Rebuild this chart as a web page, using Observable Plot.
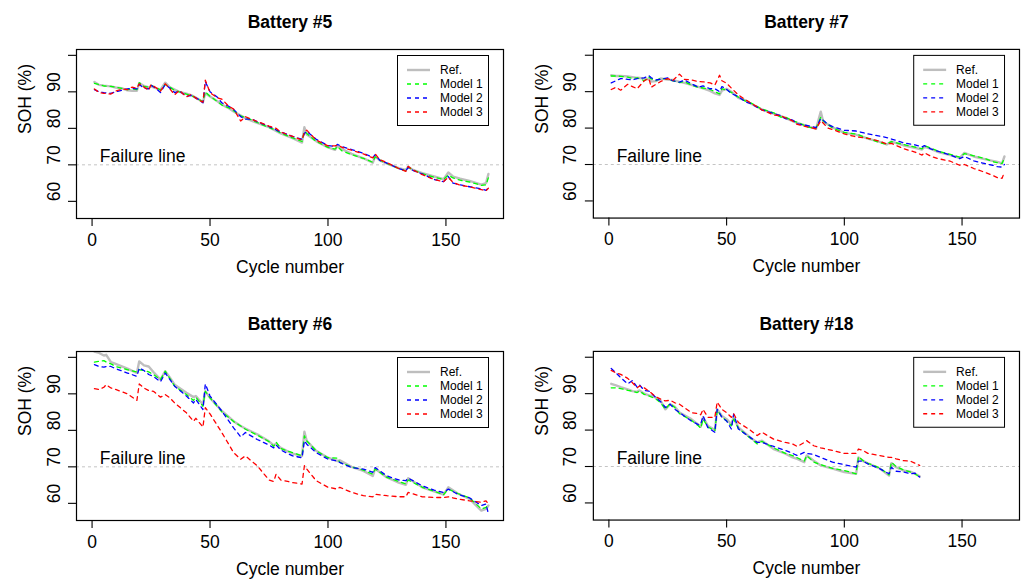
<!DOCTYPE html>
<html><head><meta charset="utf-8">
<script src="https://cdn.jsdelivr.net/npm/d3@7"></script>
<script src="https://cdn.jsdelivr.net/npm/@observablehq/plot@0.6"></script>
<style>
body{margin:0;background:#fff;width:1021px;height:579px;overflow:hidden;position:relative;font-family:"Liberation Sans",Arial,Helvetica,sans-serif;}
.panel{position:absolute;}
</style></head><body>
<script>
// ---------- data ----------
const seriesNames = ["Ref.", "Model 1", "Model 2", "Model 3"];
const seriesColors = ["#bebebe", "#00ff00", "#0000ff", "#ff0000"];
const yTicks = [60, 70, 80, 90, 100];
const yLabels = [60, 70, 80, 90];
const xTicks = [0, 50, 100, 150];
const failureLevel = [70];
const titles = ["Battery #5", "Battery #7", "Battery #6", "Battery #18"];

// Battery #5
const cycles5 = [1,3,5,8,10,13,15,17,19,20,22,24,25,27,29,31,33,35,37,40,42,45,47,48,50,53,55,58,60,63,65,68,70,75,78,80,85,89,90,91,95,100,103,104,106,110,115,119,120,122,125,130,133,134,136,140,145,149,151,153,156,160,165,167,168];
const ref5 = [92.7,91.9,91.7,91.5,91.2,90.9,90.4,90.3,90.3,92.4,91.6,91.2,91.5,91.0,90.6,92.5,91.2,90.6,90.0,89.5,89.1,88.0,87.2,89.6,88.7,87.5,86.5,85.5,84.6,83.5,82.8,82.0,81.5,80.3,79.3,78.6,77.3,76.1,80.3,78.3,76.5,74.8,74.1,75.2,74.3,73.0,71.8,70.6,72.3,71.2,70.3,69.1,68.6,69.5,68.6,67.7,66.8,66.1,67.9,66.8,66.2,65.6,64.6,65.0,67.5];
const m1_5 = [92.3,92.0,91.6,91.5,91.3,90.9,90.6,90.8,90.6,92.5,91.5,91.3,91.8,91.2,90.5,92.0,91.3,90.4,90.0,89.4,89.0,88.0,87.3,90.0,88.8,87.4,86.4,85.6,84.8,83.4,83.0,82.2,81.6,80.2,79.5,78.7,77.4,76.4,79.2,78.6,76.4,74.8,74.3,75.0,73.8,72.8,71.8,70.7,72.2,71.3,70.4,69.0,68.4,69.4,68.6,67.6,66.6,66.0,67.2,66.4,65.8,65.3,64.4,64.5,66.5];
const m2_5 = [90.6,90.0,89.8,89.6,90.0,90.5,90.8,91.0,90.8,92.0,91.0,90.8,91.8,91.0,89.8,92.0,91.0,89.8,90.2,88.8,89.0,88.0,87.0,92.8,90.0,88.6,87.0,86.0,85.2,83.2,82.5,82.5,81.8,80.5,79.6,79.0,77.8,77.0,78.6,79.2,77.0,75.3,75.0,75.6,75.0,74.2,73.2,72.0,72.8,71.2,70.5,69.0,68.4,69.3,68.5,67.5,66.0,65.4,66.8,65.0,64.5,64.0,63.4,63.0,63.8];
const m3_5 = [90.8,89.8,89.6,89.4,90.2,90.8,90.6,91.3,91.0,92.2,91.3,90.4,92.0,91.2,90.2,92.2,90.8,89.2,90.4,88.6,89.3,87.8,87.2,93.2,89.8,88.4,88.0,86.0,85.3,82.0,83.2,82.4,81.9,80.6,80.0,79.0,77.8,76.8,79.0,79.5,76.8,75.2,75.2,75.4,74.8,74.0,73.0,71.9,73.0,71.4,70.6,69.0,68.2,69.6,68.6,67.3,66.0,65.4,66.6,65.2,64.4,64.0,63.2,62.9,63.6];

// Battery #7
const cycles7 = [1,3,5,8,10,12,15,17,18,20,22,25,27,30,32,35,38,40,43,45,47,48,50,52,55,58,60,65,70,73,75,78,80,85,88,90,91,93,95,100,105,110,115,118,120,125,130,133,134,137,140,145,149,151,155,160,163,165,167,168];
const ref7 = [94.5,94.3,94.3,94.2,94.0,93.8,93.6,93.4,92.8,92.9,93.6,93.3,93.2,92.7,92.4,91.9,91.3,90.9,90.2,89.5,89.1,90.3,90.8,90.0,88.3,87.6,86.8,85.1,84.0,83.3,82.8,81.9,81.4,80.4,79.8,84.5,81.8,81.0,80.2,78.7,78.2,77.1,76.2,75.5,76.3,75.3,74.6,74.1,74.9,74.2,73.4,72.6,71.8,73.2,72.2,71.4,71.0,70.7,70.3,72.2];
const m1_7 = [94.3,94.3,94.2,94.0,93.6,93.8,93.0,94.0,93.5,93.0,93.7,93.4,93.0,92.5,92.8,91.8,91.2,91.0,90.6,90.0,89.4,90.8,90.4,89.8,88.5,87.4,87.0,85.2,84.2,83.0,83.0,82.0,81.6,80.2,80.0,83.0,82.0,81.0,80.0,78.8,78.4,77.2,76.0,75.6,76.3,75.5,74.8,74.3,75.2,74.4,73.6,72.8,72.0,73.0,72.4,71.6,70.8,70.5,70.3,71.8];
const m2_7 = [92.4,93.0,93.6,93.4,93.2,93.6,93.8,94.4,93.8,93.2,93.4,93.8,93.0,92.6,93.2,92.2,91.2,91.6,90.8,90.8,90.0,91.4,90.6,89.5,88.6,87.2,86.8,85.0,84.0,83.4,82.6,82.2,81.2,80.6,80.1,82.6,82.2,81.0,80.4,79.4,79.2,78.4,77.8,77.4,77.0,76.0,75.4,74.8,75.2,74.2,73.6,72.6,71.6,72.2,71.0,70.2,69.8,69.4,69.3,70.0];
const m3_7 = [90.6,91.2,90.4,92.0,91.4,90.8,93.0,93.6,91.2,92.0,92.8,93.6,93.0,94.8,93.4,93.2,92.8,92.7,92.4,91.8,94.5,93.0,92.3,91.0,89.1,87.8,87.0,85.0,83.6,83.4,82.8,82.0,81.0,80.2,79.8,82.0,81.4,80.0,79.6,78.4,77.6,77.2,76.4,75.6,75.8,74.4,73.4,72.6,73.2,72.2,71.6,70.9,69.8,70.0,68.9,67.8,67.0,66.4,66.2,68.0];

// Battery #6
const cycles6 = [1,3,5,6,8,10,15,19,20,22,24,26,29,31,33,35,40,43,44,47,48,50,55,60,63,65,70,75,77,78,80,85,89,90,91,95,100,104,105,110,115,119,120,125,130,133,134,140,145,149,151,155,160,165,167,168];
const ref6 = [101.6,101.2,100.5,100.7,98.7,98.2,96.9,95.7,98.9,97.8,97.5,96.0,93.9,96.2,94.4,92.5,90.3,89.1,89.4,87.1,90.7,88.9,85.3,82.5,81.2,80.5,78.9,77.0,75.9,76.3,75.2,73.6,73.0,79.6,77.1,74.4,72.5,71.6,71.8,70.0,68.9,67.5,69.5,67.1,65.7,65.1,66.9,64.4,63.3,62.4,64.4,62.7,61.2,58.0,58.5,59.4];
const m1_6 = [98.7,98.9,99.1,98.7,98.2,97.5,96.6,96.0,96.6,96.4,96.0,95.3,93.9,96.2,94.2,92.1,89.8,88.2,89.1,86.6,90.7,88.9,85.1,82.4,81.2,80.3,78.7,76.9,75.6,76.8,75.0,73.9,73.0,78.5,77.1,74.4,72.5,72.4,71.2,70.0,69.1,68.0,69.4,67.1,66.0,65.3,66.4,64.4,63.3,62.4,63.9,62.7,61.5,58.5,58.9,59.8];
const m2_6 = [98.0,97.5,97.3,97.5,97.5,96.9,95.7,94.8,97.1,96.4,95.3,94.8,93.3,95.7,93.9,92.1,89.4,87.5,88.5,85.7,92.7,89.4,85.3,80.7,78.2,79.4,77.5,76.0,75.2,76.0,74.6,73.0,72.5,77.1,76.2,73.9,72.1,71.6,71.2,69.8,69.4,68.5,69.8,67.5,66.4,66.2,66.9,64.8,63.6,63.0,63.9,62.5,61.5,59.4,59.8,57.1];
const m3_6 = [91.4,91.2,91.8,92.5,91.6,91.2,90.0,88.2,92.7,91.6,90.9,90.7,89.1,89.8,88.9,87.5,84.8,82.5,83.3,80.9,86.2,84.5,79.4,73.9,72.1,73.0,70.3,66.4,66.0,68.0,66.4,65.7,65.3,70.3,69.4,66.2,64.4,63.9,64.4,63.0,62.1,61.8,62.5,62.1,61.8,61.8,63.0,61.8,61.6,61.6,61.8,61.2,60.7,60.3,60.7,59.8];

// Battery #18
const cycles18 = [1,3,5,8,10,12,13,15,17,20,22,24,26,28,30,35,38,39,40,42,45,46,48,50,52,53,55,60,63,65,70,75,78,80,83,84,87,90,95,100,105,106,108,110,115,119,120,122,125,128,130,132];
const ref18 = [92.7,92.3,91.8,91.2,90.7,90.5,90.9,90.0,89.5,88.9,88.0,85.7,87.1,86.4,84.8,83.0,81.5,80.9,83.5,81.2,80.0,85.7,83.9,83.0,81.6,83.5,80.7,78.0,76.6,77.1,74.8,73.5,72.5,72.1,71.2,73.0,71.6,70.3,69.4,68.5,68.0,72.5,71.5,70.9,69.5,67.5,70.9,69.8,68.9,68.6,68.0,67.3];
const m1_18 = [91.6,91.6,91.4,90.9,90.7,90.3,90.7,89.8,89.4,88.5,87.5,85.7,87.3,86.2,84.5,82.7,81.2,80.5,83.0,80.9,79.8,85.5,83.6,82.5,81.2,83.0,80.5,77.8,76.2,76.9,75.1,73.6,73.0,72.4,71.5,73.0,71.2,70.5,69.5,68.9,68.0,72.7,71.6,70.9,69.6,67.7,71.2,70.0,69.1,68.5,68.0,67.1];
const m2_18 = [96.9,95.7,94.4,92.7,93.6,91.8,92.4,90.9,90.7,88.9,87.8,86.2,87.1,85.7,84.8,82.5,81.5,81.6,83.9,80.7,79.4,85.7,83.5,82.5,80.3,84.4,80.3,78.0,76.6,76.6,75.5,74.4,73.6,73.0,73.9,73.6,73.3,72.5,71.2,70.5,69.8,71.5,71.5,70.7,69.4,68.0,69.8,68.7,68.5,68.0,68.2,67.1];
const m3_18 = [96.4,95.7,95.3,94.2,93.0,91.6,92.1,91.6,90.7,89.1,88.5,88.0,88.2,87.5,87.1,84.8,84.5,84.2,85.7,83.5,83.5,87.7,85.7,84.8,83.5,84.5,82.1,80.0,78.5,79.4,77.5,76.6,76.2,75.5,76.6,77.1,75.7,75.1,74.4,73.6,73.6,74.8,74.4,73.6,73.0,72.5,72.5,72.1,71.6,71.5,70.9,70.3];

// ---------- drawing ----------
const FONT = '"Liberation Sans", Arial, Helvetica, sans-serif';
const BOX_W = 427, BOX_H = 169, ML = 76, MT = 49, MR = 2;

function panel(title, cycles, series, left, top, height) {
  const rows = [];
  series.forEach((vals, s) => vals.forEach((v, i) => rows.push({cycle: cycles[i], soh: v, name: seriesNames[s]})));
  const lineMarks = seriesNames.map((name, s) =>
    Plot.line(rows.filter(r => r.name === name), {
      x: "cycle", y: "soh",
      stroke: seriesColors[s],
      strokeWidth: s === 0 ? 2.4 : 1.3,
      strokeDasharray: s === 0 ? undefined : "4,4",
      clip: true
    }));
  const svg = Plot.plot({
    width: ML + BOX_W + MR,
    height: height,
    marginLeft: ML, marginRight: MR, marginTop: MT, marginBottom: height - MT - BOX_H,
    style: {fontFamily: FONT, fontSize: "17.5px", background: "white", color: "black", overflow: "visible"},
    x: {domain: [-6.6, 174.4]},
    y: {domain: [55.3, 101.6]},
    marks: [
      Plot.ruleY(failureLevel, {stroke: "#c4c4c4", strokeDasharray: "3,3", strokeWidth: 1}),
      Plot.text(["Failure line"], {x: () => 3.3, y: () => 72.3, text: d => d, textAnchor: "start", fontSize: 17.5, fill: "black"}),
      ...lineMarks,
      Plot.frame({stroke: "black", strokeWidth: 1.2}),
      Plot.axisY({ticks: yTicks, tickSize: 8, tickFormat: () => "", label: null, strokeWidth: 1.1}),
      Plot.text(yLabels, {y: d => d, text: d => String(d), frameAnchor: "left", dx: -22.5, rotate: -90, fontSize: 17.5, fill: "black"}),
      Plot.axisX({ticks: xTicks, tickSize: 8, tickPadding: 7, fontSize: 17.5, label: null, strokeWidth: 1.1}),
      Plot.text(["SOH (%)"], {text: d => d, frameAnchor: "left", dx: -51, rotate: -90, fontSize: 17.5, fill: "black"}),
      Plot.text(["Cycle number"], {text: d => d, frameAnchor: "bottom", dy: 54, fontSize: 17.5, fill: "black"}),
      Plot.text([title], {text: d => d, frameAnchor: "top", dy: -34, fontSize: 17.5, fontWeight: "bold", fill: "black"})
    ]
  });
  // legend (top-right inside the box)
  const g = d3.select(svg).append("g")
    .attr("transform", `translate(${ML + BOX_W - 14 - 92},${MT + 6})`)
    .attr("font-family", FONT).attr("font-size", 12).attr("text-anchor", "start");
  g.append("rect").attr("x", 0.5).attr("y", 0.5).attr("width", 91).attr("height", 70)
    .attr("fill", "white").attr("stroke", "black").attr("stroke-width", 1);
  seriesNames.forEach((name, s) => {
    const yy = 15 + s * 14;
    g.append("line").attr("x1", 10).attr("x2", 33).attr("y1", yy).attr("y2", yy)
      .attr("stroke", seriesColors[s]).attr("stroke-width", s === 0 ? 2.4 : 1.3)
      .attr("stroke-dasharray", s === 0 ? null : "4,4");
    g.append("text").attr("x", 43).attr("y", yy).attr("dy", "0.35em")
      .attr("text-anchor", "start").attr("fill", "black").text(name);
  });
  const div = document.createElement("div");
  div.className = "panel";
  div.style.left = left + "px";
  div.style.top = top + "px";
  div.appendChild(svg);
  document.body.appendChild(div);
}

panel(titles[0], cycles5, [ref5, m1_5, m2_5, m3_5], 0, 0, 288);
panel(titles[1], cycles7, [ref7, m1_7, m2_7, m3_7], 517, 0, 288);
panel(titles[2], cycles6, [ref6, m1_6, m2_6, m3_6], 0, 302, 277);
panel(titles[3], cycles18, [ref18, m1_18, m2_18, m3_18], 517, 302, 277);
</script>
</body></html>
